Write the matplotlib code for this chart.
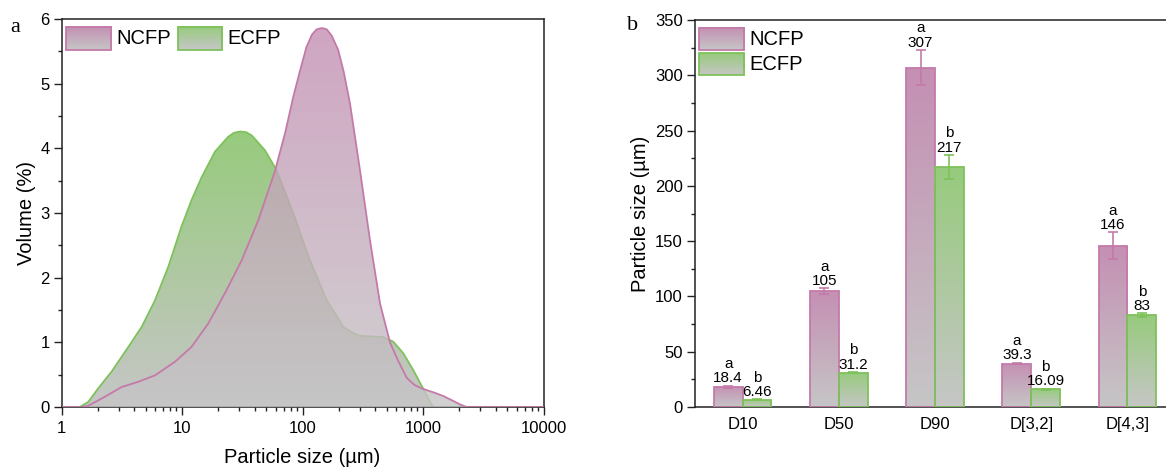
import numpy as np
import matplotlib.pyplot as plt
from matplotlib.colors import LinearSegmentedColormap
from matplotlib.patches import Rectangle

plt.rcParams['font.family'] = ['Liberation Sans', 'DejaVu Sans']

# panel a: particle size distribution (size in um, volume in %)
ncfp_size = [1, 1.5, 1.67, 2.3, 3.16, 4.34, 5.97, 8.75, 12.0, 16.5, 22.7, 31.3, 43.0, 59.1,
             72, 83.9, 96, 108, 120, 131, 145, 159, 175, 198, 220, 248, 300, 363, 440, 532,
             620, 733, 850, 1000, 1250, 1473, 1800, 2028, 2300, 10000]
ncfp_vol = [0, 0, 0.02, 0.16, 0.31, 0.39, 0.49, 0.70, 0.93, 1.29, 1.76, 2.27, 2.89, 3.65,
            4.25, 4.80, 5.22, 5.57, 5.76, 5.84, 5.86, 5.84, 5.74, 5.52, 5.18, 4.69, 3.66, 2.58,
            1.60, 1.00, 0.72, 0.45, 0.34, 0.28, 0.22, 0.17, 0.09, 0.04, 0, 0]
ecfp_size = [1, 1.42, 1.67, 2.02, 2.61, 3.59, 4.63, 5.97, 7.7, 9.9, 12.0, 14.6, 18.8, 24.2,
             27, 30.3, 34, 37.9, 48.8, 61, 84, 115, 159, 218, 260, 300, 380, 468, 567, 687,
             831, 1000, 1143, 1219, 10000]
ecfp_vol = [0, 0, 0.08, 0.29, 0.55, 0.93, 1.24, 1.65, 2.17, 2.79, 3.20, 3.56, 3.95, 4.18,
            4.24, 4.26, 4.25, 4.20, 3.97, 3.66, 2.99, 2.27, 1.65, 1.24, 1.15, 1.10, 1.09, 1.08,
            1.01, 0.83, 0.57, 0.29, 0.08, 0, 0]

# panel b: characteristic diameters
categories = ['D10', 'D50', 'D90', 'D[3,2]', 'D[4,3]']
ncfp_vals = [18.4, 105, 307, 39.3, 146]
ncfp_err = [1.0, 2.5, 16, 0.8, 12]
ecfp_vals = [6.46, 31.2, 217, 16.09, 83]
ecfp_err = [0.5, 0.6, 11, 0.4, 2]
ncfp_labels = ['18.4', '105', '307', '39.3', '146']
ecfp_labels = ['6.46', '31.2', '217', '16.09', '83']
ncfp_letters = ['a', 'a', 'a', 'a', 'a']
ecfp_letters = ['b', 'b', 'b', 'b', 'b']

pink, pink_edge = '#c48fb3', '#c47aa9'
green, green_edge = '#97cb7d', '#7ec25b'
gray = '#c6c6c6'
spine_col = '#222222'
gradient = np.linspace(0, 1, 256).reshape(-1, 1)


def grad_cmap(top):
    return LinearSegmentedColormap.from_list('g', [gray, top])


def legend_box(ax, x0, x1, y0, y1, color, edge, label, tx):
    ax.imshow(gradient, cmap=grad_cmap(color), origin='lower', aspect='auto',
              extent=[x0, x1, y0, y1], transform=ax.transAxes, zorder=6)
    ax.add_patch(Rectangle((x0, y0), x1 - x0, y1 - y0, transform=ax.transAxes,
                           facecolor='none', edgecolor=edge, lw=1.3, zorder=7))
    ax.text(tx, (y0 + y1) / 2, label, transform=ax.transAxes, fontsize=14.5,
            va='center', ha='left', zorder=7)


W, H = 1166, 467
fig = plt.figure(figsize=(W / 100, H / 100), dpi=100)

# ---------------- panel a ----------------
ax1 = fig.add_axes([61.5 / W, (H - 407) / H, 482 / W, 388 / H])
ax1.set_xscale('log')
ymax1 = 6
for xs, ys, col, edge, alpha, z in [(ecfp_size, ecfp_vol, green, green_edge, 1.0, 2),
                                    (ncfp_size, ncfp_vol, pink, pink_edge, 0.8, 3)]:
    poly = ax1.fill_between(xs, ys, 0, facecolor='none', edgecolor='none')
    im = ax1.imshow(gradient, cmap=grad_cmap(col), origin='lower', aspect='auto',
                    extent=[0, 1, 0, max(ys) / ymax1], transform=ax1.transAxes,
                    alpha=alpha, zorder=z)
    im.set_clip_path(poly.get_paths()[0], transform=ax1.transData)
    ax1.plot(xs, ys, color=edge, lw=1.3, zorder=z + 0.5)

ax1.set_xlim(1, 10000)
ax1.set_ylim(0, ymax1)
ax1.set_xticks([1, 10, 100, 1000, 10000])
ax1.set_xticklabels(['1', '10', '100', '1000', '10000'])
ax1.set_yticks(range(0, 7))
ax1.set_yticks(np.arange(0.5, 6, 1.0), minor=True)
ax1.set_xlabel('Particle size (\u00b5m)', fontsize=14.5)
ax1.set_ylabel('Volume (%)', fontsize=14.5)
ax1.xaxis.set_label_coords(0.5, -0.105)
ax1.yaxis.set_label_coords(-0.052, 0.5)
legend_box(ax1, 0.0093, 0.103, 0.920, 0.980, pink, pink_edge, 'NCFP', 0.113)
legend_box(ax1, 0.241, 0.334, 0.920, 0.980, green, green_edge, 'ECFP', 0.345)
fig.text(15 / W, 1 - 27 / H, 'a', family='Liberation Serif', fontsize=16, ha='center', va='center')

# ---------------- panel b ----------------
ax2 = fig.add_axes([694.5 / W, (H - 407) / H, 1 - 694.5 / W, 387 / H])
x = np.arange(len(categories))
w = 0.3
for offs, vals, errs, col, edge, labs, lets in [
        (-w / 2, ncfp_vals, ncfp_err, pink, pink_edge, ncfp_labels, ncfp_letters),
        (w / 2, ecfp_vals, ecfp_err, green, green_edge, ecfp_labels, ecfp_letters)]:
    bars = ax2.bar(x + offs, vals, w, facecolor='none', edgecolor=edge, lw=1.3, zorder=3)
    for rect, v in zip(bars, vals):
        im = ax2.imshow(gradient, cmap=grad_cmap(col), origin='lower', aspect='auto',
                        extent=[rect.get_x(), rect.get_x() + w, 0, v], zorder=2)
        im.set_clip_path(rect)
    ax2.errorbar(x + offs, vals, yerr=errs, fmt='none', ecolor=edge, elinewidth=1.2,
                 capsize=3.5, capthick=1.2, zorder=4)
    for xi, v, e, lab, let in zip(x + offs, vals, errs, labs, lets):
        ax2.annotate(lab, (xi, v + e), xytext=(0, 2.4), textcoords='offset points',
                     ha='center', va='baseline', fontsize=11)
        ax2.annotate(let, (xi, v + e), xytext=(0, 12.6), textcoords='offset points',
                     ha='center', va='baseline', fontsize=11)

ax2.set_xlim(-0.5, (W - 742.6) / 96.2)
ax2.set_ylim(0, 350)
ax2.set_xticks(x)
ax2.set_xticklabels(categories)
ax2.set_yticks(range(0, 351, 50))
ax2.set_yticks(range(25, 350, 50), minor=True)
ax2.set_ylabel('Particle size (\u00b5m)', fontsize=14.5)
ax2.yaxis.set_label_coords(-0.094, 0.5)
ax2.spines['right'].set_visible(False)
legend_box(ax2, 0.010, 0.106, 0.922, 0.979, pink, pink_edge, 'NCFP', 0.117)
legend_box(ax2, 0.010, 0.106, 0.858, 0.914, green, green_edge, 'ECFP', 0.117)
fig.text(633 / W, 1 - 26 / H, 'b', family='Liberation Serif', fontsize=16, ha='center', va='center')

for ax in (ax1, ax2):
    for s in ax.spines.values():
        s.set_color(spine_col)
        s.set_linewidth(1.1)
    ax.tick_params(which='both', direction='out', color=spine_col, width=1.0,
                   labelsize=12, top=False, right=False)
    ax.tick_params(which='major', length=6)
    ax.tick_params(which='minor', length=3)
ax1.tick_params(axis='x', pad=4)
ax1.tick_params(axis='y', pad=2.5)
ax2.tick_params(axis='x', length=0, pad=7)
ax2.tick_params(axis='y', pad=2.5)

fig.savefig('out.png', dpi=100)
